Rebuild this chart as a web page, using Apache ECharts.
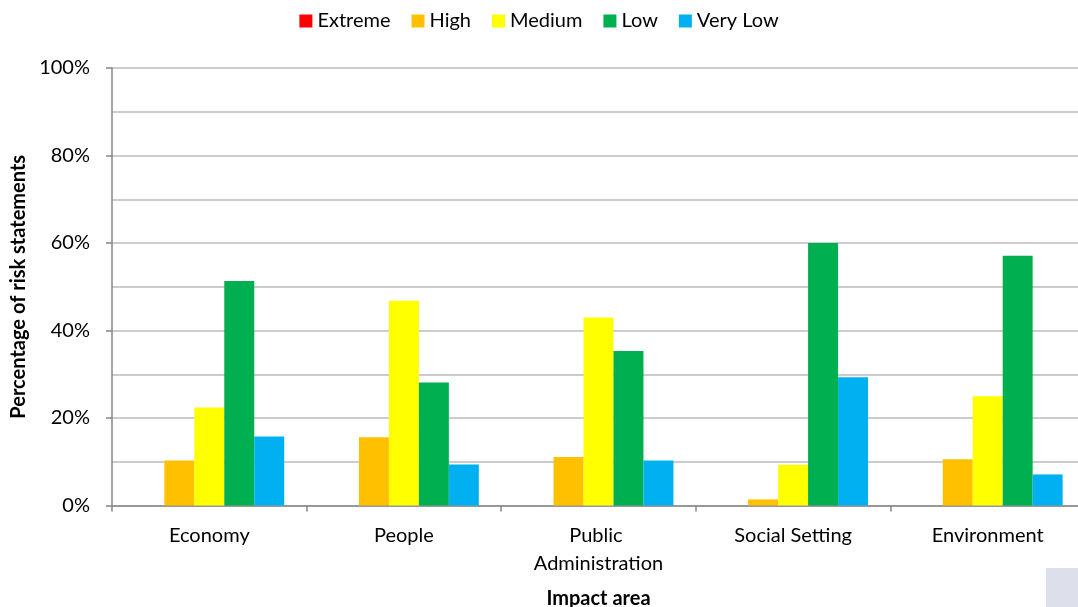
<!DOCTYPE html>
<html>
<head>
<meta charset="utf-8">
<title>Impact area risk ratings</title>
<script src="https://cdn.jsdelivr.net/npm/echarts@6/dist/echarts.min.js"></script>
<style>
  html, body { margin: 0; padding: 0; background: #ffffff; }
  #chart { width: 1078px; height: 607px; }
</style>
</head>
<body>
<div id="chart"></div>
<script>
// Impact areas on the category axis
const categories = ['Economy', 'People', 'Public Administration', 'Social Setting', 'Environment'];

// Share of risk statements (%) per rating level
const extreme = [0, 0, 0, 0, 0];
const high    = [10.3, 15.6, 11.1, 1.4, 10.6];
const medium  = [22.4, 46.8, 43.0, 9.3, 25.0];
const low     = [51.3, 28.1, 35.3, 60.0, 57.1];
const veryLow = [15.8, 9.4, 10.3, 29.3, 7.1];

// Value axis ticks (%)
const yTicks = [0, 20, 40, 60, 80, 100];

const FONT = 'Lato, "Open Sans", sans-serif';

const seriesDefs = [
  { name: 'Extreme',  data: extreme, color: '#FF0000' },
  { name: 'High',     data: high,    color: '#FFC000' },
  { name: 'Medium',   data: medium,  color: '#FFFF00' },
  { name: 'Low',      data: low,     color: '#00B050' },
  { name: 'Very Low', data: veryLow, color: '#00B0F0' }
];

const chart = echarts.init(document.getElementById('chart'), null, { renderer: 'canvas' });

chart.setOption({
  animation: false,
  backgroundColor: '#ffffff',
  textStyle: { fontFamily: FONT },
  legend: {
    top: 6,
    left: 'center',
    icon: 'rect',
    itemWidth: 13,
    itemHeight: 13,
    itemGap: 21,
    textStyle: { fontFamily: FONT, fontSize: 20, color: '#000000', padding: [0, 0, 0, 0] },
    data: seriesDefs.map(s => s.name)
  },
  grid: {
    left: 112, top: 68, right: -7, bottom: 101.5,
    containLabel: false,
    outerBoundsMode: 'none'
  },
  xAxis: {
    type: 'category',
    data: categories,
    name: 'Impact area',
    nameLocation: 'middle',
    nameGap: 83,
    nameTextStyle: { fontFamily: FONT, fontSize: 20, fontWeight: 'bold', color: '#000000' },
    axisLine: { lineStyle: { color: '#868686', width: 1.5 } },
    axisTick: { show: true, length: 6, lineStyle: { color: '#868686', width: 1.5 } },
    axisLabel: {
      fontFamily: FONT, fontSize: 20, color: '#000000',
      margin: 16, lineHeight: 28, width: 160, overflow: 'break', interval: 0
    }
  },
  yAxis: {
    type: 'value',
    min: yTicks[0],
    max: yTicks[yTicks.length - 1],
    interval: yTicks[1] - yTicks[0],
    name: 'Percentage of risk statements',
    nameLocation: 'middle',
    nameGap: 77,
    nameTextStyle: { fontFamily: FONT, fontSize: 20, fontWeight: 'bold', color: '#000000' },
    axisLine: { show: true, lineStyle: { color: '#868686', width: 1.5 } },
    axisTick: { show: true, length: 6, lineStyle: { color: '#868686', width: 1.5 } },
    axisLabel: { fontFamily: FONT, fontSize: 20, color: '#000000', margin: 22, formatter: '{value}%' },
    splitLine: { show: true, lineStyle: { color: '#bcbcbc', width: 1.5 } },
    minorTick: { show: false, splitNumber: 2 },
    minorSplitLine: { show: true, lineStyle: { color: '#bcbcbc', width: 1.5 } }
  },
  series: seriesDefs.map(s => ({
    name: s.name,
    type: 'bar',
    data: s.data,
    barGap: '0%',
    barCategoryGap: '23%',
    itemStyle: { color: s.color },
    emphasis: { disabled: true }
  })),
  graphic: [{
    type: 'rect',
    right: 0,
    bottom: 0,
    shape: { width: 32, height: 39 },
    style: { fill: '#dde0ea' },
    silent: true
  }]
});
</script>
</body>
</html>
